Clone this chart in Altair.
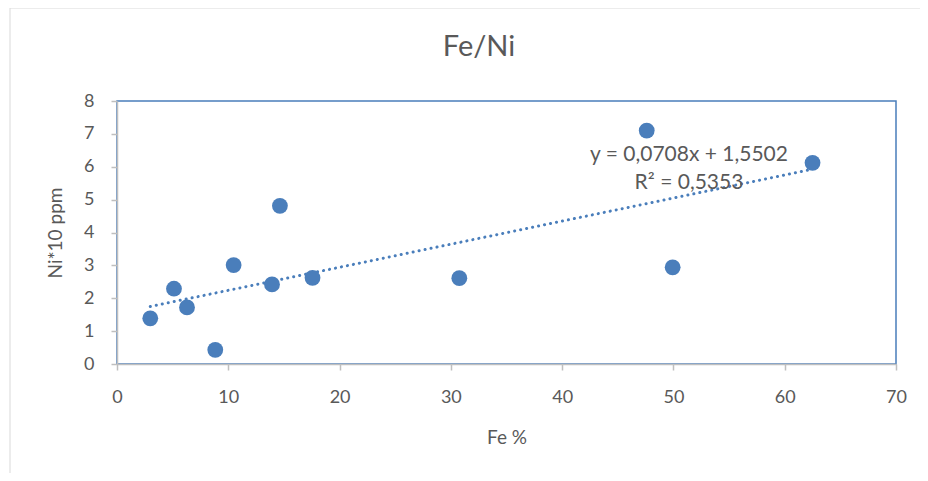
import altair as alt
import pandas as pd

fe = [2.99, 5.12, 6.29, 8.83, 10.48, 13.93, 14.64, 17.57, 30.76, 47.6, 49.93, 62.5]
ni = [1.39, 2.29, 1.72, 0.43, 3.01, 2.42, 4.81, 2.62, 2.61, 7.10, 2.94, 6.12]
eq_lines = ["y = 0,0708x + 1,5502", "R² = 0,5353"]
title_text = ["Fe/Ni"]

df = pd.DataFrame({"x": fe, "y": ni})
FONT = "Lato"
BLUE = "#4a7ebb"
GRAY = "#595959"
W, H = 779, 263

xs = alt.Scale(domain=[0, 70], nice=False)
ys = alt.Scale(domain=[0, 8], nice=False)
xaxis = alt.Axis(values=list(range(0, 71, 10)), labelFlush=False)
yaxis = alt.Axis(values=list(range(0, 9)), labelFlush=False)

frame = alt.Chart(pd.DataFrame({"a": [0]})).mark_rect(
    fill=None, stroke="#D9D9D9", strokeWidth=1, clip=False
).encode(x=alt.value(-107), x2=alt.value(804), y=alt.value(-93), y2=alt.value(400))

base = alt.Chart(df)

points = base.mark_circle(size=250, color=BLUE, opacity=1).encode(
    x=alt.X("x:Q", scale=xs, title="Fe %", axis=xaxis),
    y=alt.Y("y:Q", scale=ys, title="Ni*10 ppm", axis=yaxis),
)

trend = base.transform_regression("x", "y").mark_line(
    color=BLUE, strokeWidth=3, strokeDash=[0.1, 6], strokeCap="round"
).encode(x=alt.X("x:Q", scale=xs, title="Fe %", axis=xaxis),
         y=alt.Y("y:Q", scale=ys, title="Ni*10 ppm", axis=yaxis))

eq = alt.Chart(pd.DataFrame({"t": [eq_lines[0]]})).mark_text(
    font=FONT, fontSize=21, color=GRAY
).encode(x=alt.value(572), y=alt.value(54), text="t:N")
r2 = alt.Chart(pd.DataFrame({"t": [eq_lines[1]]})).mark_text(
    font=FONT, fontSize=21, color=GRAY
).encode(x=alt.value(572), y=alt.value(82), text="t:N")

title = alt.Chart(pd.DataFrame({"t": title_text})).mark_text(
    font=FONT, fontSize=29, color=GRAY, baseline="middle"
).encode(x=alt.value(362), y=alt.value(-54), text="t:N")

chart = alt.layer(frame, trend, points, eq, r2, title).properties(
    width=W, height=H,
    autosize=alt.AutoSizeParams(type="none"),
    padding={"left": 109, "top": 93, "right": 24, "bottom": 109},
).configure_view(stroke=BLUE, strokeWidth=1.5).configure_axis(
    grid=False, domainColor="#BFBFBF", domainWidth=1.5, tickColor="#BFBFBF",
    tickWidth=1.5, tickSize=6, labelFont=FONT, labelFontSize=18, labelColor=GRAY,
    titleFont=FONT, titleFontSize=19, titleColor=GRAY, titleFontWeight="normal",
    labelOverlap=False,
).configure_axisX(labelPadding=18, titlePadding=22).configure_axisY(
    labelPadding=17, titlePadding=18)

chart.save("out.html", embed_options={"renderer": "svg", "actions": False})
